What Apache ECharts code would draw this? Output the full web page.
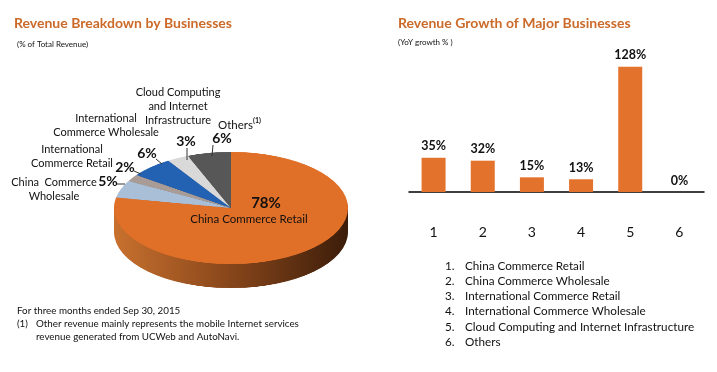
<!DOCTYPE html>
<html><head><meta charset="utf-8">
<script src="https://cdn.jsdelivr.net/npm/echarts@6/dist/echarts.min.js"></script>
<style>
html,body{margin:0;padding:0;background:#fff;}
#wrap{position:relative;width:717px;height:372px;overflow:hidden;background:#fff;}
#pie{position:absolute;left:101px;top:148px;width:260px;height:300px;transform:scaleY(0.48);transform-origin:0 0;z-index:1;}
#main{position:absolute;left:0;top:0;width:717px;height:372px;z-index:2;}
</style></head><body>
<div id="wrap"><div id="pie"></div><div id="main"></div></div>
<script>
// ---- data ----
const pieNames = ['China Commerce Retail','China Commerce Wholesale','International Commerce Retail','International Commerce Wholesale','Cloud Computing and Internet Infrastructure','Others'];
const pieValues = [78, 5, 2, 6, 3, 6];
const pieLabelText = ['China Commerce Retail', 'China  Commerce\nWholesale', 'International\nCommerce Retail', 'International\nCommerce Wholesale', 'Cloud Computing\nand Internet\nInfrastructure', 'Others'];
const barCategories = ['1','2','3','4','5','6'];
const barValues = [35, 32, 15, 13, 128, 0];
const leftTitle = 'Revenue Breakdown by Businesses';
const leftSub = '(% of Total Revenue)';
const rightTitle = 'Revenue Growth of Major Businesses';
const rightSub = '(YoY growth % )';
const footLines = ['For three months ended Sep 30, 2015', 'Other revenue mainly represents the mobile Internet services', 'revenue generated from UCWeb and AutoNavi.'];

// ---- styles ----
const FONT = 'Lato, "Liberation Sans", sans-serif';
const topColors = ['#E06F28', '#A9BFD7', '#A99C96', '#2361B2', '#D9D9D9', '#575757'];
const sideColors = [
  {type:'linear', x:0, y:0, x2:1, y2:0, colorStops:[{offset:0,color:'#C8712F'},{offset:0.45,color:'#8E4A1C'},{offset:1,color:'#3C1D0A'}]},
  '#7F91A6', '#7D716C', '#163F78', '#A6A6A6', '#333333'
];

// ---- pie (3D-ish via vertical squash) ----
const pieChart = echarts.init(document.getElementById('pie'), null, {renderer:'canvas'});
const R = 117, CX = 130, CY = 125, DEPTH = 50;
const pieSeries = [];
for (let d = DEPTH; d > 0; d -= 5) {
  pieSeries.push({
    type:'pie', radius:R, center:[CX, CY + d], startAngle:90, clockwise:true, silent:true,
    animation:false, label:{show:false}, labelLine:{show:false},
    data: pieValues.map((v,i)=>({value:v, name:pieNames[i], itemStyle:{color:sideColors[i]}}))
  });
}
pieSeries.push({
  type:'pie', radius:R, center:[CX, CY], startAngle:90, clockwise:true, silent:true,
  animation:false, label:{show:false}, labelLine:{show:false},
  data: pieValues.map((v,i)=>({value:v, name:pieNames[i], itemStyle:{color:topColors[i]}}))
});
pieChart.setOption({animation:false, series:pieSeries});

// ---- main chart ----
const graphics = [];
function txt(x, y, text, font, opts) {
  graphics.push({type:'text', x:x, y:y, silent:true, z:10,
    style:Object.assign({text:text, font:font, fill:'#111', textAlign:'left', textVerticalAlign:'middle'}, opts||{})});
}
function line(x1,y1,x2,y2){
  graphics.push({type:'polyline', silent:true, z:10, shape:{points:[[x1,y1],[x2,y2]]}, style:{stroke:'#333', lineWidth:1}});
}
// subtitles
txt(17, 44, leftSub, '8px ' + FONT);
txt(398, 42, rightSub, '8px ' + FONT);

// pie labels (text from data arrays)
const pctFont = 'bold 14px ' + FONT;
const nameFont = '11px ' + FONT;
// 78% inside
txt(266, 203, pieValues[0] + '%', 'bold 15px ' + FONT, {textAlign:'center'});
txt(249, 219, pieLabelText[0], '11.5px ' + FONT, {textAlign:'center'});
// outside labels
const outside = [
  null,
  {px:108, py:181, nx:54,  ny:175, ln:[117,184,125,184]},
  {px:125, py:167, nx:72,  ny:142, ln:[134,171,141,174]},
  {px:147, py:153, nx:106, ny:111, ln:[156,159,162,164]},
  {px:186, py:141, nx:178, ny:85,  ln:[187,148,187,160]},
  {px:222, py:138, nx:218, ny:118, ln:[213,145,212,156]}
];
for (let i = 1; i < pieValues.length; i++) {
  const o = outside[i];
  txt(o.px, o.py, pieValues[i] + '%', pctFont, {textAlign:'center'});
  if (i === 5) {
    txt(o.nx, 125, pieLabelText[i], '11.5px ' + FONT);
    txt(o.nx + 35, 121, '(1)', 'bold 7px ' + FONT);
  } else {
    txt(o.nx, o.ny, pieLabelText[i], nameFont, {textAlign:'center', textVerticalAlign:'top', lineHeight:14});
  }
  line(o.ln[0], o.ln[1], o.ln[2], o.ln[3]);
}

// footnotes
txt(17, 311, footLines[0], '9.8px ' + FONT);
txt(17, 324, '(1)', '9.8px ' + FONT);
txt(36, 324, footLines[1], '9.8px ' + FONT);
txt(36, 337, footLines[2], '9.8px ' + FONT);

// bar legend list
for (let i = 0; i < pieNames.length; i++) {
  txt(445, 266 + i * 15.2, barCategories[i] + '.', '11.7px ' + FONT);
  txt(465, 266 + i * 15.2, pieNames[i], '11.7px ' + FONT);
}

const main = echarts.init(document.getElementById('main'), null, {renderer:'canvas'});
main.setOption({
  animation:false,
  backgroundColor:'transparent',
  title:[
    {text:leftTitle, left:14, top:16, padding:0, textStyle:{fontFamily:FONT, fontWeight:'bold', fontSize:14, color:'#CC6A2A'}},
    {text:rightTitle, left:398, top:16, padding:0, textStyle:{fontFamily:FONT, fontWeight:'bold', fontSize:14, color:'#CC6A2A'}}
  ],
  grid:{left:409, right:13, top:55, bottom:180, containLabel:false},
  xAxis:{type:'category', data:barCategories,
    axisLine:{lineStyle:{color:'#000', width:1.5}}, axisTick:{show:false},
    axisLabel:{margin:33, fontSize:14, color:'#111', fontFamily:FONT}},
  yAxis:{type:'value', min:0, max:140, show:false, splitLine:{show:false}},
  series:[{type:'bar', data:barValues, barWidth:24, silent:true,
    itemStyle:{color:'#E3722C'},
    label:{show:true, position:'top', distance:5, formatter:'{c}%', fontFamily:FONT, fontWeight:'bold', fontSize:12.5, color:'#111'}}],
  graphic:graphics
});
</script>
</body></html>
